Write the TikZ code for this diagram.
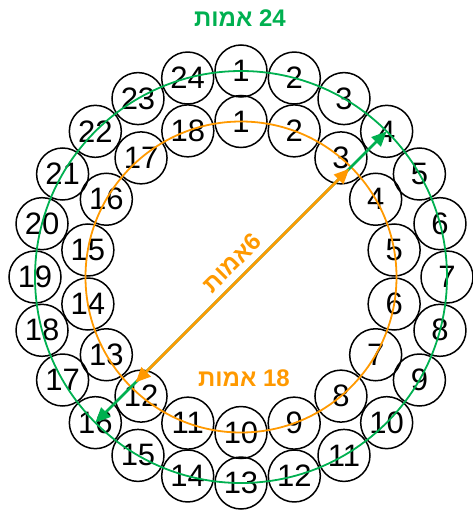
\documentclass[tikz,border=0pt]{standalone}
\usepackage{fontspec}
\setmainfont{Liberation Sans}
\newfontfamily\hebfont[Script=Hebrew]{Liberation Sans}
\TeXXeTstate=1
\usetikzlibrary{arrows.meta}
\definecolor{ringgreen}{RGB}{0,176,80}
\definecolor{ringorange}{RGB}{255,153,0}
\tikzset{
  ball/.style={circle, draw, line width=1.5pt, minimum size=52pt, inner sep=0pt, font=\fontsize{31}{31}\selectfont},
  ring/.style={line width=1.8pt},
  span/.style={line width=2.6pt, {Triangle[length=15pt,width=13pt]}-{Triangle[length=15pt,width=13pt]}},
  lbl/.style={font=\hebfont\bfseries\fontsize{24}{24}\selectfont}
}

\begin{document}
\begin{tikzpicture}[x=1pt,y=-1pt]
\useasboundingbox (0,0) rectangle (472,511);
\coordinate (c) at (241,277);
% outer ring: 24 cells
\foreach \k in {1,...,24}
  \node[ball] (o\k) at ([shift={({15*(\k-1)-90}:206)}]c) {\k};
% inner ring: 18 cells
\foreach \k in {1,...,18}
  \node[ball] (i\k) at ([shift={({20*(\k-1)-90}:155.5)}]c) {\k};
\draw[ring, ringgreen] (c) circle[radius=206];
\draw[ring, ringorange] (c) circle[radius=155.5];
% diameters
\coordinate (ne) at ([shift={(-45:153)}]c);
\coordinate (sw) at ([shift={(135:149)}]c);
\draw[span, ringgreen] (o16.center) -- (o4.center);
\draw[span, ringorange] (sw) -- (ne);
\node[lbl, text=ringgreen] (outer) at (240,18) {\beginR\beginL 24\endL{} אמות\endR};
\node[lbl, text=ringorange] (inner) at (244,378) {\beginR\beginL 18\endL{} אמות\endR};
\node[lbl, text=ringorange, rotate=45] (width) at (232,263) {\beginR\beginL 6\endL אמות\endR};
\end{tikzpicture}
\end{document}
